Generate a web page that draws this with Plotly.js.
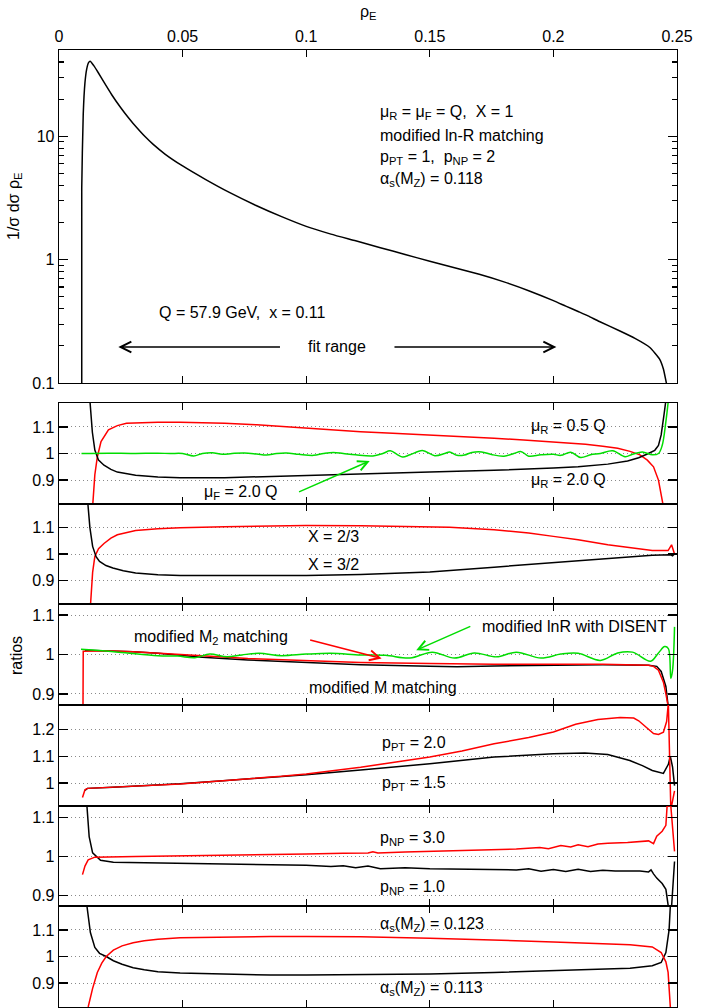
<!DOCTYPE html>
<html>
<head>
<meta charset="utf-8">
<script src="https://cdn.plot.ly/plotly-3.0.1.min.js"></script>
<style>html,body{margin:0;padding:0;background:#fff}#plot{width:706px;height:1008px}</style>
</head>
<body>
<div id="plot"></div>
<script>
// ---------- data ----------
const xTickVals = [0, 0.05, 0.1, 0.15, 0.2, 0.25];
const xTickText = ['0', '0.05', '0.1', '0.15', '0.2', '0.25'];

// top panel: 1/sigma dsigma/drho_E
const rhoTop  = [0.0092, 0.0092, 0.0098, 0.0105, 0.0112, 0.0119, 0.0126, 0.0140, 0.0159, 0.0180, 0.0214, 0.0250, 0.0281, 0.0300, 0.0349, 0.0380, 0.0430, 0.0500, 0.0592, 0.0687, 0.0795, 0.0903, 0.1000, 0.1100, 0.1200, 0.1300, 0.1400, 0.1500, 0.1600, 0.1700, 0.1800, 0.1900, 0.2000, 0.2050, 0.2100, 0.2140, 0.2186, 0.2267, 0.2330, 0.2389, 0.2429, 0.2445, 0.2457, 0.2462];
const distTop = [0.05,   3.8,    15,     27.2,   35,     39.4,   40.6,   37.5,   32.7,   27.8,   21.6,   17.0,   14.1,   12.7,   9.9,    8.63,   7.14,   5.74,   4.47,   3.52,   2.76,   2.22,   1.86,   1.61,   1.42,   1.25,   1.10,   0.97,   0.86,   0.76,   0.66,   0.56,   0.465,  0.42,   0.38,   0.35,   0.315,  0.265,  0.23,   0.195,  0.157,  0.13,   0.10,   0.09];

// panel 1: renormalisation / factorisation scale
const rhoMuR05   = [0.0136, 0.0145, 0.0155, 0.017, 0.020, 0.0236, 0.0273, 0.033, 0.040, 0.049, 0.058, 0.067, 0.080, 0.100, 0.110, 0.122, 0.135, 0.150, 0.163, 0.176, 0.188, 0.200, 0.207, 0.213, 0.220, 0.226, 0.231, 0.235, 0.238, 0.2405, 0.2425, 0.2445];
const ratioMuR05 = [0.80,   0.92,   0.987,  1.045, 1.089, 1.105,  1.114,  1.117, 1.118, 1.118, 1.116, 1.114, 1.108, 1.095, 1.090, 1.082, 1.076, 1.070, 1.064, 1.057, 1.051, 1.044, 1.040, 1.035, 1.027, 1.020, 1.008, 0.995, 0.975, 0.95,   0.90,   0.80];
const rhoMuR20   = [0.0125, 0.0135, 0.0145, 0.016, 0.0182, 0.021, 0.0236, 0.031, 0.040, 0.049, 0.067, 0.085, 0.100, 0.122, 0.150, 0.176, 0.190, 0.200, 0.210, 0.222, 0.230, 0.2345, 0.238, 0.241, 0.2425, 0.2436, 0.2448, 0.2455];
const ratioMuR20 = [1.20,   1.08,   1.013,  0.975, 0.956,  0.940, 0.930,  0.918, 0.912, 0.909, 0.909, 0.913, 0.917, 0.923, 0.930, 0.937, 0.941, 0.945, 0.950, 0.960, 0.972, 0.984,  0.998, 1.012, 1.03,   1.07,   1.15,   1.20];
const rhoMuF20   = [0.0091, 0.020, 0.030, 0.040, 0.045, 0.050, 0.0545, 0.058, 0.062, 0.066, 0.070, 0.075, 0.080, 0.084, 0.088, 0.092, 0.097, 0.103, 0.107, 0.111, 0.115, 0.120, 0.127, 0.131, 0.134, 0.137, 0.139, 0.142, 0.147, 0.152, 0.156, 0.158, 0.161, 0.164, 0.167, 0.171, 0.175, 0.180, 0.184, 0.187, 0.190, 0.195, 0.200, 0.203, 0.207, 0.211, 0.215, 0.219, 0.224, 0.229, 0.232, 0.236, 0.240, 0.2425, 0.244, 0.2455, 0.2465];
const ratioMuF20 = [1.000,  1.001, 1.000, 1.001, 1.000, 1.000, 0.991,  1.000, 1.003, 0.997, 1.000, 1.002, 0.998, 0.994, 1.000, 1.002, 0.997, 0.993, 1.000, 1.004, 1.000, 0.995, 0.991, 1.000, 1.010, 0.995, 0.987, 0.995, 1.011, 0.992, 1.000, 1.006, 0.993, 0.994, 1.004, 1.006, 0.996, 0.990, 1.000, 1.007, 0.990, 0.995, 0.997, 0.993, 1.005, 0.985, 0.995, 1.000, 1.010, 0.988, 0.997, 1.006, 0.995, 1.000,  1.030, 1.120,  1.20];

// panel 2: X variation
const rhoX23   = [0.0127, 0.0136, 0.0145, 0.016, 0.0182, 0.021, 0.0236, 0.031, 0.040, 0.049, 0.067, 0.0855, 0.100, 0.122, 0.140, 0.158, 0.176, 0.190, 0.200, 0.210, 0.222, 0.232, 0.240, 0.2464, 0.2478, 0.249];
const ratioX23 = [0.80,   0.93,   0.991,  1.020, 1.040,  1.060, 1.073,  1.089, 1.096, 1.100, 1.104, 1.107,  1.108, 1.107, 1.105, 1.102, 1.092, 1.080, 1.067, 1.054, 1.035, 1.022, 1.013, 1.013,  1.035,  1.000];
const rhoX32   = [0.0116, 0.0125, 0.0136, 0.015, 0.0164, 0.019, 0.0218, 0.026, 0.031, 0.040, 0.049, 0.0855, 0.100, 0.122, 0.150, 0.176, 0.200, 0.222, 0.240, 0.2475, 0.2482, 0.249];
const ratioX32 = [1.20,   1.10,   1.029,  0.990, 0.972,  0.956, 0.947,  0.936, 0.928, 0.921, 0.918, 0.916,  0.918, 0.922, 0.932, 0.950, 0.966, 0.982, 0.995, 0.997,  0.993,  1.000];

// panel 3: matching schemes
const rhoMatchM    = [0.0105, 0.015, 0.0218, 0.030, 0.040, 0.050, 0.058, 0.0764, 0.100, 0.122, 0.150, 0.161, 0.176, 0.200, 0.220, 0.2385, 0.2418, 0.2436, 0.2455, 0.2464];
const ratioMatchM  = [1.011,  1.010, 1.009,  1.007, 1.003, 0.997, 0.993, 0.986,  0.979, 0.974, 0.970, 0.969, 0.971, 0.973, 0.974, 0.973,  0.970,  0.957,  0.919,  0.870];
const rhoMatchM2   = [0.0097, 0.0098, 0.015, 0.0218, 0.030, 0.040, 0.050, 0.058, 0.0764, 0.100, 0.122, 0.150, 0.161, 0.176, 0.200, 0.220, 0.2385, 0.2405, 0.2425, 0.2445, 0.2455, 0.2464];
const ratioMatchM2 = [0.860,  1.008,  1.009, 1.009,  1.007, 1.004, 1.000, 0.997, 0.990,  0.984, 0.980, 0.977, 0.976, 0.975, 0.975, 0.975, 0.973,  0.970,  0.960,  0.930,  0.900,  0.870];
const rhoDisent    = [0.0089, 0.024, 0.040, 0.048, 0.055, 0.061, 0.068, 0.074, 0.081, 0.090, 0.100, 0.110, 0.122, 0.132, 0.142, 0.151, 0.160, 0.168, 0.177, 0.185, 0.195, 0.203, 0.210, 0.219, 0.226, 0.232, 0.2393, 0.2425, 0.2450, 0.2465, 0.2475, 0.2482, 0.2490];
const ratioDisent  = [1.013,  1.006, 0.997, 0.996, 0.992, 1.001, 0.994, 0.999, 1.003, 0.997, 1.001, 1.003, 0.999, 0.998, 0.991, 1.006, 0.991, 1.004, 0.994, 1.006, 0.991, 1.001, 1.003, 0.985, 1.004, 1.006, 0.983,  1.004,  1.020,  1.015,  0.940,  0.960,  1.070];

// panel 4: p_PT
const rhoPPT20   = [0.0095, 0.0105, 0.0115, 0.0218, 0.035, 0.049, 0.065, 0.0764, 0.090, 0.100, 0.110, 0.122, 0.135, 0.150, 0.163, 0.176, 0.190, 0.200, 0.209, 0.218, 0.227, 0.2325, 0.2345, 0.238, 0.2405, 0.2425, 0.2445, 0.2458, 0.2465, 0.2475, 0.2490];
const ratioPPT20 = [0.946,  0.975,  0.980,  0.984,  0.990, 0.996, 1.008, 1.015,  1.025, 1.034, 1.045, 1.059, 1.077, 1.097, 1.120, 1.147, 1.170, 1.191, 1.220, 1.238, 1.245, 1.243,  1.233,  1.204, 1.185,  1.182,  1.190,  1.230,  1.300,  0.900,  0.971];
const rhoPPT15   = [0.0105, 0.0115, 0.0218, 0.035, 0.049, 0.065, 0.0764, 0.090, 0.100, 0.122, 0.150, 0.176, 0.190, 0.200, 0.2127, 0.222, 0.2309, 0.236, 0.240, 0.2445, 0.2465, 0.2473, 0.2482, 0.2490];
const ratioPPT15 = [0.972,  0.980,  0.984,  0.990, 0.997, 1.008, 1.015,  1.024, 1.031, 1.049, 1.072, 1.097, 1.106, 1.110, 1.112,  1.107, 1.084,  1.065, 1.047, 1.036,  1.070,  1.100,  1.060,  0.990];

// panel 5: p_NP
const rhoPNP30   = [0.0095, 0.0105, 0.0118, 0.0145, 0.031, 0.0764, 0.100, 0.115, 0.125, 0.127, 0.129, 0.140, 0.150, 0.165, 0.176, 0.185, 0.1945, 0.198, 0.203, 0.207, 0.210, 0.214, 0.218, 0.222, 0.230, 0.236, 0.2385, 0.2405, 0.2418, 0.244, 0.2455, 0.2460, 0.2475, 0.2490];
const ratioPNP30 = [0.953,  0.975,  0.991,  0.998,  1.000, 1.003,  1.006, 1.008, 1.009, 1.012, 1.009, 1.011, 1.013, 1.015, 1.017, 1.019, 1.023,  1.020, 1.028, 1.024, 1.030, 1.025, 1.032, 1.034, 1.036, 1.038, 1.040,  1.033,  1.052,  1.065, 1.080,  1.130,  1.130,  1.013];
const rhoPNP10   = [0.0113, 0.0122, 0.0136, 0.0168, 0.022, 0.031, 0.050, 0.0764, 0.100, 0.110, 0.115, 0.120, 0.125, 0.130, 0.140, 0.150, 0.160, 0.170, 0.176, 0.185, 0.190, 0.195, 0.200, 0.205, 0.210, 0.215, 0.220, 0.225, 0.230, 0.235, 0.2385, 0.2395, 0.2405, 0.2418, 0.244, 0.2455, 0.2465, 0.2478, 0.2490];
const ratioPNP10 = [1.130,  1.051,  1.009,  0.990,  0.985, 0.984, 0.983, 0.980,  0.977, 0.974, 0.976, 0.971, 0.975, 0.968, 0.971, 0.968, 0.967, 0.966, 0.966, 0.965, 0.968, 0.962, 0.966, 0.961, 0.967, 0.961, 0.964, 0.962, 0.962, 0.962, 0.960,  0.965,  0.955,  0.944,  0.930, 0.915,  0.870,  0.870,  0.987];

// panel 6: alpha_s
const rhoAs123   = [0.0118, 0.0136, 0.0155, 0.0173, 0.0191, 0.022, 0.0255, 0.030, 0.0345, 0.040, 0.049, 0.067, 0.0855, 0.100, 0.122, 0.150, 0.176, 0.200, 0.220, 0.231, 0.240, 0.2436, 0.2455, 0.2464, 0.2473];
const ratioAs123 = [0.810,  0.880,  0.940,  0.975,  1.000,  1.024, 1.040,  1.052, 1.059,  1.065, 1.071, 1.074, 1.075,  1.075, 1.074, 1.069, 1.0625, 1.055, 1.048, 1.044, 1.036, 1.015,  0.980,  0.940,  0.810];
const rhoAs113   = [0.0113, 0.0127, 0.0145, 0.0164, 0.0191, 0.022, 0.0255, 0.030, 0.0345, 0.040, 0.049, 0.0855, 0.100, 0.122, 0.150, 0.176, 0.200, 0.220, 0.231, 0.240, 0.2436, 0.2455, 0.2468, 0.2473];
const ratioAs113 = [1.190,  1.090,  1.034,  1.012,  1.000,  0.984, 0.971,  0.958, 0.950,  0.943, 0.9375, 0.930, 0.930, 0.931, 0.934, 0.940, 0.946, 0.952, 0.956, 0.965, 0.9775, 1.015,  1.100,  1.190];

// ---------- styles ----------
const BLACK = '#000000', RED = '#ff0000', GREEN = '#00dd00';
const FONT = 'Liberation Sans, Arial, Helvetica, sans-serif';

function line(x, y, color, n, smooth) {
  const s = n === 1 ? '' : String(n);
  const ln = {color: color, width: 1.5};
  if (smooth) { ln.shape = 'spline'; ln.smoothing = smooth; }
  return {x: x, y: y, type: 'scatter', mode: 'lines', xaxis: 'x' + s, yaxis: 'y' + s,
          line: ln, hoverinfo: 'skip', showlegend: false};
}

const traces = [
  line(rhoTop, distTop, BLACK, 1, 0.5),
  line(rhoMuR05, ratioMuR05, RED, 2),
  line(rhoMuR20, ratioMuR20, BLACK, 2),
  line(rhoMuF20, ratioMuF20, GREEN, 2, 1),
  line(rhoX23, ratioX23, RED, 3),
  line(rhoX32, ratioX32, BLACK, 3),
  line(rhoMatchM, ratioMatchM, BLACK, 4),
  line(rhoMatchM2, ratioMatchM2, RED, 4),
  line(rhoDisent, ratioDisent, GREEN, 4, 1),
  line(rhoPPT15, ratioPPT15, BLACK, 5),
  line(rhoPPT20, ratioPPT20, RED, 5),
  line(rhoPNP10, ratioPNP10, BLACK, 6),
  line(rhoPNP30, ratioPNP30, RED, 6),
  line(rhoAs113, ratioAs113, BLACK, 7),
  line(rhoAs123, ratioAs123, RED, 7)
];

// ---------- layout ----------
const H = 957, TOP = 50;
function dom(pxTop, pxBot) { return [(TOP + H - pxBot) / H, (TOP + H - pxTop) / H]; }

const axisCommon = {
  showline: true, linecolor: '#000', linewidth: 1.3, mirror: 'ticks',
  ticks: 'inside', tickcolor: '#000', tickwidth: 1.2, zeroline: false,
  tickfont: {family: FONT, size: 16, color: '#000'}
};

const layout = {
  width: 706, height: 1008,
  margin: {l: 59, r: 29, t: TOP, b: 1, pad: 0},
  paper_bgcolor: '#fff', plot_bgcolor: '#fff',
  font: {family: FONT, size: 16, color: '#000'},
  showlegend: false,
  annotations: []
};

// top panel axes
layout.xaxis = Object.assign({}, axisCommon, {
  domain: [0, 1], range: [0, 0.25], side: 'top', anchor: 'y',
  tickmode: 'array', tickvals: xTickVals, ticktext: xTickText, ticklen: 7, showgrid: false
});
layout.yaxis = Object.assign({}, axisCommon, {
  domain: dom(50, 383), type: 'log', range: [-1, Math.log10(50)], anchor: 'x',
  tickmode: 'array', tickvals: [0.1, 1, 10], ticktext: ['0.1', '1', '10'], ticklen: 9, showgrid: false,
  minor: {tickmode: 'array', tickvals: [0.2,0.3,0.4,0.5,0.6,0.7,0.8,0.9,2,3,4,5,6,7,8,9,20,30,40],
          ticks: 'inside', ticklen: 5, tickcolor: '#000', tickwidth: 1.2, showgrid: false}
});

// ratio panels
const panelPx = [[403, 504], [504, 604], [604, 705], [705, 806], [806, 906], [906, 1007]];
const panelRange = [[0.81, 1.19], [0.81, 1.19], [0.872, 1.128], [0.914, 1.292], [0.872, 1.13], [0.81, 1.19]];
const panelTicks = [[0.9, 1, 1.1], [0.9, 1, 1.1], [0.9, 1, 1.1], [1, 1.1, 1.2], [0.9, 1, 1.1], [0.9, 1, 1.1]];
const panelTickText = [['0.9', '1', '1.1'], ['0.9', '1', '1.1'], ['0.9', '1', '1.1'], ['1', '1.1', '1.2'], ['0.9', '1', '1.1'], ['0.9', '1', '1.1']];

for (let i = 0; i < 6; i++) {
  const n = i + 2;
  layout['xaxis' + n] = Object.assign({}, axisCommon, {
    domain: [0, 1], range: [0, 0.25], anchor: 'y' + n,
    tickmode: 'array', tickvals: xTickVals, showticklabels: false, ticklen: 7, showgrid: false
  });
  layout['yaxis' + n] = Object.assign({}, axisCommon, {
    domain: dom(panelPx[i][0], panelPx[i][1]), range: panelRange[i], anchor: 'x' + n,
    tickmode: 'array', tickvals: panelTicks[i], ticktext: panelTickText[i], ticklen: 9,
    showgrid: true, gridcolor: '#8a8a8a', griddash: '1px,3px', gridwidth: 1
  });
}

// ---------- text ----------
function txt(text, x, y, n, opts) {
  const s = n === 1 ? '' : String(n);
  return Object.assign({text: text, x: x, y: y, xref: 'x' + s, yref: 'y' + s,
    showarrow: false, xanchor: 'left', yanchor: 'middle',
    font: {family: FONT, size: 16, color: '#000'}}, opts || {});
}
function arrow(x, y, ax, ay, n, color, size) {
  const s = n === 1 ? '' : String(n);
  return {text: '', x: x, y: y, ax: ax, ay: ay, xref: 'x' + s, yref: 'y' + s, axref: 'x' + s, ayref: 'y' + s,
    showarrow: true, arrowhead: 5, arrowsize: size || 1.3, arrowwidth: 1.5, arrowcolor: color,
    standoff: 0, startstandoff: 0};
}
layout.annotations.push(
  // top panel (log axis -> log10 coordinates)
  txt('μ<sub>R</sub> = μ<sub>F</sub> = Q,  X = 1', 0.129, 1.192, 1),
  txt('modified ln-R matching', 0.129, 1.006, 1),
  txt('p<sub>PT</sub> = 1,  p<sub>NP</sub> = 2', 0.129, 0.828, 1),
  txt('α<sub>s</sub>(M<sub>Z</sub>) = 0.118', 0.129, 0.649, 1),
  txt('Q = 57.9 GeV,  x = 0.11', 0.0395, -0.425, 1),
  txt('fit range', 0.1124, -0.708, 1, {xanchor: 'center'}),
  arrow(0.024, -0.708, 0.090, -0.708, 1, '#000', 1.4),
  arrow(0.2012, -0.708, 0.1351, -0.708, 1, '#000', 1.4),
  // panel 1
  txt('μ<sub>R</sub> = 0.5 Q', 0.19, 1.1, 2),
  txt('μ<sub>R</sub> = 2.0 Q', 0.19, 0.9, 2),
  txt('μ<sub>F</sub> = 2.0 Q', 0.058, 0.854, 2),
  arrow(0.1257, 0.972, 0.0965, 0.853, 2, GREEN),
  // panel 2
  txt('X = 2/3', 0.1, 1.067, 3),
  txt('X = 3/2', 0.1, 0.96, 3),
  // panel 3
  txt('modified M<sub>2</sub> matching', 0.0296, 1.043, 4),
  txt('modified lnR with DISENT', 0.1705, 1.07, 4),
  txt('modified M matching', 0.1004, 0.917, 4),
  arrow(0.1305, 0.990, 0.101, 1.038, 4, RED),
  arrow(0.1445, 1.011, 0.167, 1.073, 4, GREEN),
  // panel 4
  txt('p<sub>PT</sub> = 2.0', 0.13, 1.147, 5),
  txt('p<sub>PT</sub> = 1.5', 0.13, 0.999, 5),
  // panel 5
  txt('p<sub>NP</sub> = 3.0', 0.129, 1.047, 6),
  txt('p<sub>NP</sub> = 1.0', 0.129, 0.919, 6),
  // panel 6
  txt('α<sub>s</sub>(M<sub>Z</sub>) = 0.123', 0.129, 1.121, 7),
  txt('α<sub>s</sub>(M<sub>Z</sub>) = 0.113', 0.129, 0.88, 7),
  // axis titles
  {text: 'ρ<sub>E</sub>', xref: 'paper', yref: 'paper', x: 0.5, y: (TOP + H - 12) / H,
   showarrow: false, xanchor: 'center', yanchor: 'middle', font: {family: FONT, size: 16, color: '#000'}},
  {text: '1/σ dσ ρ<sub>E</sub>', xref: 'paper', yref: 'paper', x: (14 - 59) / 618, y: (TOP + H - 207) / H,
   textangle: -90, showarrow: false, xanchor: 'center', yanchor: 'middle', font: {family: FONT, size: 16, color: '#000'}},
  {text: 'ratios', xref: 'paper', yref: 'paper', x: (16 - 59) / 618, y: (TOP + H - 655) / H,
   textangle: -90, showarrow: false, xanchor: 'center', yanchor: 'middle', font: {family: FONT, size: 16, color: '#000'}}
);

Plotly.newPlot('plot', traces, layout, {displayModeBar: false, staticPlot: true});
</script>
</body>
</html>
